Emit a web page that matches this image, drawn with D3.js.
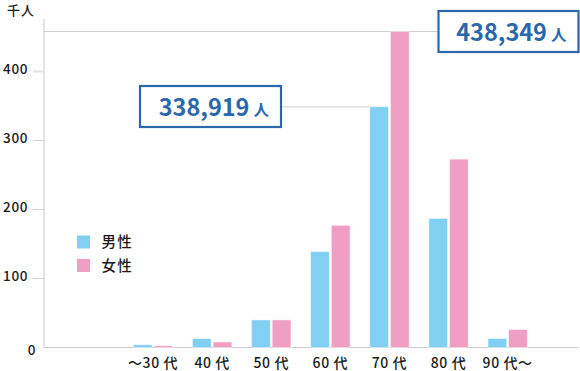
<!DOCTYPE html>
<html><head><meta charset="utf-8">
<script src="https://cdn.jsdelivr.net/npm/d3@7"></script>
<style>
html,body{margin:0;padding:0;background:#fff;}
svg{display:block;font-family:"Noto Sans CJK JP","Noto Sans",sans-serif;}
</style></head><body>
<svg id="c" width="580" height="371"></svg>
<script>
const categories = ["〜30 代","40 代","50 代","60 代","70 代","80 代","90 代〜"];
const male   = [4, 13, 40, 139, 349, 187, 13];
const female = [2.5, 8, 40, 177, 458, 273, 26];
const seriesNames = ["男性","女性"];
const colors = ["#82cff4","#f09ec4"];
const yTicks = [0,100,200,300,400];
const unitLabel = "千人";
const callouts = [
  {series:0, cat:"70 代", text:"338,919", unit:"人"},
  {series:1, cat:"70 代", text:"438,349", unit:"人"}
];

const svg = d3.select("#c");
const x = d3.scaleBand().domain(categories).range([123.5, 537.2]).paddingInner(0).paddingOuter(0);
const y = d3.scaleLinear().domain([0,400]).range([347.5, 71.5]);
const axX = 44;

svg.append("line").attr("x1",axX).attr("x2",axX).attr("y1",19).attr("y2",y(0))
  .attr("stroke","#ccc").attr("stroke-width",1);
svg.append("line").attr("x1",axX).attr("x2",578).attr("y1",y(0)).attr("y2",y(0))
  .attr("stroke","#ccc").attr("stroke-width",1.2);

yTicks.filter(t=>t>0).forEach(t=>{
  svg.append("line").attr("x1",33).attr("x2",axX).attr("y1",y(t)).attr("y2",y(t))
    .attr("stroke", t===400 ? "#e2e2e2" : "#d0d0d0").attr("stroke-width", t===400?2:1);
});
svg.append("g").selectAll("text").data(yTicks).join("text")
  .attr("x", d=> d===0 ? 36 : 28)
  .attr("y", d=> d===0 ? y(d)+3 : y(d)-2)
  .attr("dy","0.35em").attr("text-anchor","end")
  .attr("font-size",13.5).attr("font-weight",500).attr("letter-spacing",0.6).attr("fill","#1a1a1a")
  .text(d=>d);
svg.append("text").attr("x",7).attr("y",14.5).attr("font-size",13).attr("font-weight",500).attr("letter-spacing",1)
  .attr("fill","#1a1a1a").text(unitLabel);

const bw = 18.7, gap = 1;
const data = [];
categories.forEach((c,i)=>{
  data.push({c, s:0, v:male[i]});
  data.push({c, s:1, v:female[i]});
});
const cx = c => x(c) + x.bandwidth()/2;
const barX = d => d.s===0 ? cx(d.c)-gap-bw : cx(d.c)+gap;

callouts.forEach(co=>{
  const v = (co.series===0?male:female)[categories.indexOf(co.cat)];
  if(co.series===0){
    svg.append("line").attr("x1",281).attr("x2",barX({c:co.cat,s:0})).attr("y1",y(v)).attr("y2",y(v))
      .attr("stroke","#e0e0e0").attr("stroke-width",1.5);
  } else {
    svg.append("line").attr("x1",axX).attr("x2",438).attr("y1",y(v)).attr("y2",y(v))
      .attr("stroke","#cfcfcf").attr("stroke-width",1.2);
  }
});

svg.append("g").selectAll("rect").data(data).join("rect")
  .attr("x", barX).attr("width", bw)
  .attr("y", d=>y(d.v)).attr("height", d=>y(0)-y(d.v))
  .attr("fill", d=>colors[d.s])
  .attr("stroke","rgba(255,255,255,0.45)").attr("stroke-width",1);

svg.append("g").selectAll("text").data(categories).join("text")
  .attr("x", d=>cx(d)).attr("y", 363).attr("dy","0.35em").attr("text-anchor","middle")
  .attr("font-size",14).attr("font-weight",500).attr("letter-spacing",0.6).attr("fill","#1a1a1a")
  .text(d=>d);

seriesNames.forEach((n,i)=>{
  svg.append("rect").attr("x",77).attr("y",235.5+i*23.5).attr("width",13).attr("height",13)
    .attr("fill",colors[i]);
  svg.append("text").attr("x",101.5).attr("y",242+i*24).attr("dy","0.35em")
    .attr("font-size",14.5).attr("font-weight",500).attr("letter-spacing",1.2).attr("fill","#1a1a1a").text(n);
});

const boxes = [{x:140, y:86, w:141, h:41}, {x:438.5, y:11, w:140, h:41}];
callouts.forEach((co,i)=>{
  const b = boxes[i];
  svg.append("rect").attr("x",b.x).attr("y",b.y).attr("width",b.w).attr("height",b.h)
    .attr("fill","#fff").attr("stroke","#2b67ab").attr("stroke-width",2.2);
  const t = svg.append("text").attr("x", b.x+b.w-12).attr("y", b.y+29.5).attr("text-anchor","end")
    .attr("fill","#2b67ab").attr("font-weight","bold");
  t.append("tspan").attr("font-size",23.5).text(co.text);
  t.append("tspan").attr("font-size",15.5).attr("dx",4).text(co.unit);
});
</script></body></html>
